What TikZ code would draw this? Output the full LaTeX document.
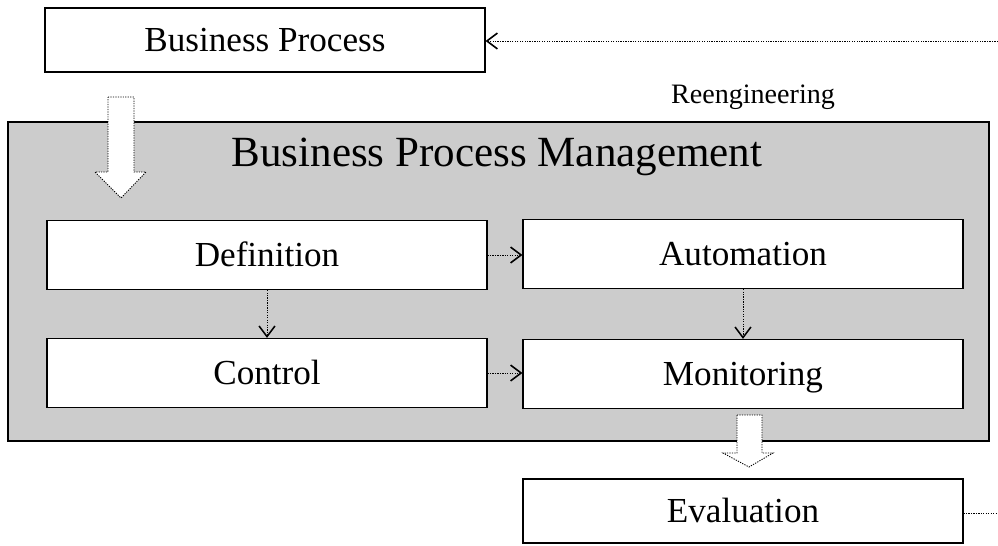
\documentclass[tikz,border=0pt]{standalone}
\usepackage{fontspec}
\setmainfont{Liberation Serif}
\usetikzlibrary{arrows.meta,positioning}

\begin{document}
\begin{tikzpicture}[x=0.02cm,y=-0.02cm,
  stage/.style={draw,fill=white,line width=0.7pt,inner sep=0pt,
    minimum width=8.8cm,minimum height=1.38cm,text height=15pt,text depth=2pt,
    font=\fontsize{20}{24}\selectfont},
  dots/.style={line width=0.5pt,dash pattern=on 0.7pt off 0.7pt},
  link/.style={dots,-{Straight Barb[length=6pt,width=9pt,line width=0.9pt]}},
  blockarrow/.style={dots,fill=white}]
\useasboundingbox (0,0) rectangle (998,545);
% management frame
\draw[line width=0.8pt,fill=black!20] (8,122) rectangle (989,441);
\node[font=\fontsize{24.5}{28}\selectfont] (bpm) at (497,157) {Business Process Management};
% stages
\node[stage,minimum height=1.28cm] (bp) at (265,40) {Business Process};
\node[stage] (def) at (267,255) {Definition};
\node[stage] (aut) at (743,254) {Automation};
\node[stage] (ctl) at (267,373) {Control};
\node[stage] (mon) at (743,374) {Monitoring};
\node[stage,minimum height=1.28cm] (ev) at (743,511) {Evaluation};
% reengineering loop
\coordinate (re) at (998,41);
\coordinate (evend) at (998,513);
\draw[link] (re) -- (re -| bp.east);
\node[font=\fontsize{16}{19}\selectfont] (reng) at (753,97) {Reengineering};
\draw[dots] (ev.east |- evend) -- (evend);
% inner links
\draw[link] (def.east) -- (def.east -| aut.west);
\draw[link] (ctl.east) -- (ctl.east -| mon.west);
\draw[link] (def) -- (ctl);
\draw[link] (aut) -- (mon);
% block arrows
\draw[blockarrow] (108,97) -- (134,97) -- (134,172) -- (146,172) -- (121,198)
  -- (95,172) -- (108,172) -- cycle;
\draw[blockarrow] (737,415) -- (762,415) -- (762,453) -- (773,453) -- (749,467)
  -- (723,453) -- (737,453) -- cycle;
\end{tikzpicture}
\end{document}
